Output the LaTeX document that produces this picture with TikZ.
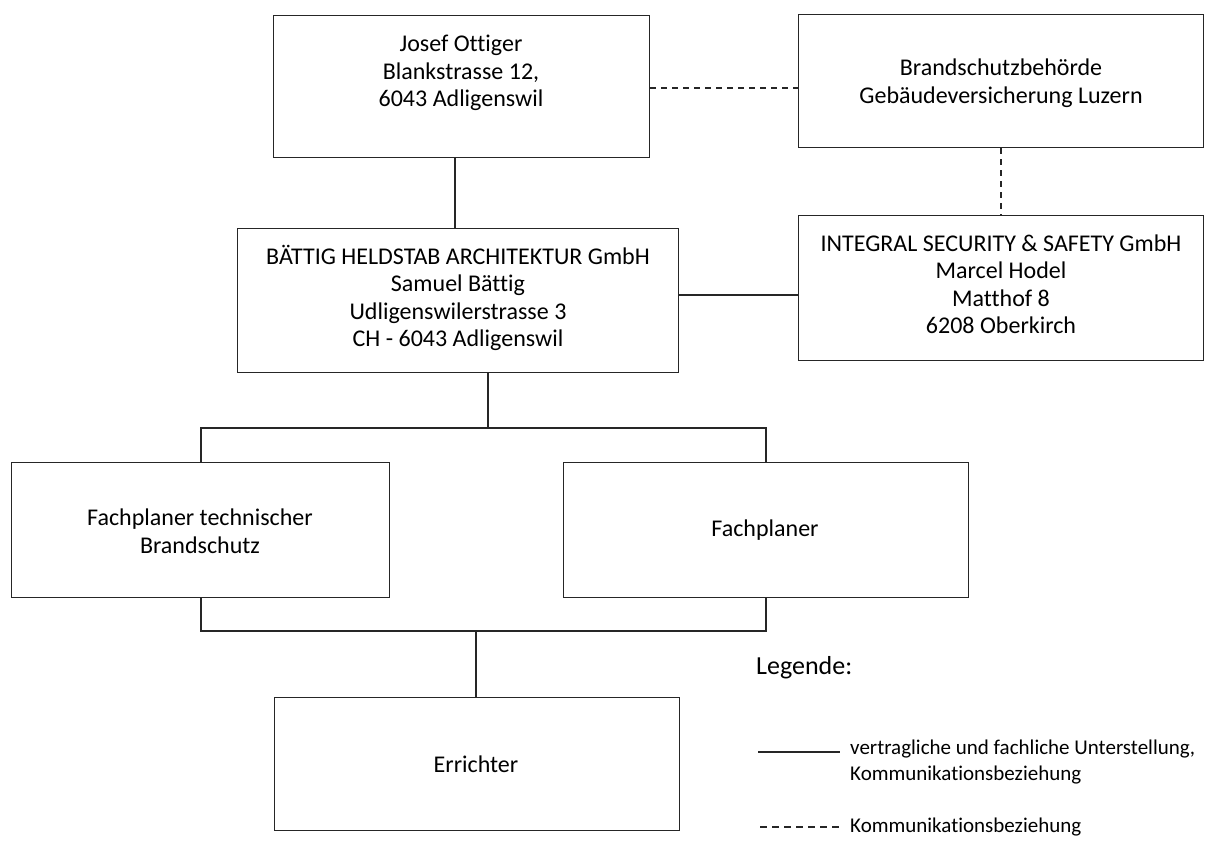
\documentclass[tikz,border=0pt]{standalone}
\usepackage{fontspec}
\setmainfont{Carlito}[Ligatures=NoCommon]
\begin{document}
\begin{tikzpicture}[x=1pt,y=-1pt,
  box/.style={draw=black!85,line width=1.4pt,inner sep=0pt,anchor=north west},
  txt/.style={align=center,inner sep=0pt,font=\fontsize{24}{27.5}\selectfont},
  conn/.style={draw=black!85,line width=1.4pt},
  dconn/.style={conn,dash pattern=on 6pt off 5pt},
  lbl/.style={font=\fontsize{21}{26}\selectfont,align=left,anchor=west,inner sep=0pt}]
\useasboundingbox (0,0) rectangle (1208,847);
\node[box,minimum width=376pt,minimum height=142pt] (jo) at (273,15) {};
\node[txt] (jot) at (461,73) {Josef Ottiger\\Blankstrasse 12,\\6043 Adligenswil};
\node[box,minimum width=405pt,minimum height=133pt] (bs) at (798,14) {};
\node[txt] (bst) at (1001,83) {Brandschutzbehörde\\Gebäudeversicherung Luzern};
\node[box,minimum width=405pt,minimum height=145pt] (is) at (798,215) {};
\node[txt] (ist) at (1001,284) {INTEGRAL SECURITY \& SAFETY GmbH\\Marcel Hodel\\Matthof 8\\6208 Oberkirch};
\node[box,minimum width=441pt,minimum height=144pt] (ba) at (237,228) {};
\node[txt] (bat) at (458,298) {BÄTTIG HELDSTAB ARCHITEKTUR GmbH\\Samuel Bättig\\Udligenswilerstrasse 3\\CH - 6043 Adligenswil};
\node[box,minimum width=378pt,minimum height=135pt] (ft) at (11,462) {};
\node[txt] (ftt) at (200,531) {Fachplaner technischer\\Brandschutz};
\node[box,minimum width=405pt,minimum height=135pt] (fp) at (563,462) {};
\node[txt] (fpt) at (765,530) {Fachplaner};
\node[box,minimum width=405pt,minimum height=133pt] (er) at (274,697) {};
\node[txt] (ert) at (476,764) {Errichter};
% connectors
\draw[dconn] (jo.east |- 0,88) -- (bs.west |- 0,88);
\draw[dconn] (bs.south -| 1001,0) -- (is.north -| 1001,0);
\draw[conn] (jo.south -| 455,0) -- (ba.north -| 455,0);
\draw[conn] (ba.east |- 0,295) -- (is.west |- 0,295);
\coordinate (t1) at (488,428);
\draw[conn] (ba.south -| t1) -- (t1);
\draw[conn] (ft.north -| 201,0) -- (201,428) -- (766,428) -- (fp.north -| 766,0);
\draw[conn] (ft.south -| 201,0) -- (201,631) -- (766,631) -- (fp.south -| 766,0);
\coordinate (t2) at (476,631);
\draw[conn] (t2) -- (er.north -| t2);
% legend
\node[font=\fontsize{26}{30}\selectfont,anchor=west,inner sep=0pt] (lg) at (756,668) {Legende:};
\coordinate (l1a) at (758,752);
\coordinate (l1b) at (840,752);
\draw[conn] (l1a) -- (l1b);
\node[lbl,anchor=north west] (t1l) at (850,740) {vertragliche und fachliche Unterstellung,\\Kommunikationsbeziehung};
\coordinate (l2a) at (760,827);
\coordinate (l2b) at (842,827);
\draw[conn,line width=1.2pt,dash pattern=on 7pt off 5pt] (l2a) -- (l2b);
\node[lbl] (t2l) at (850,827) {Kommunikationsbeziehung};
\end{tikzpicture}
\end{document}
